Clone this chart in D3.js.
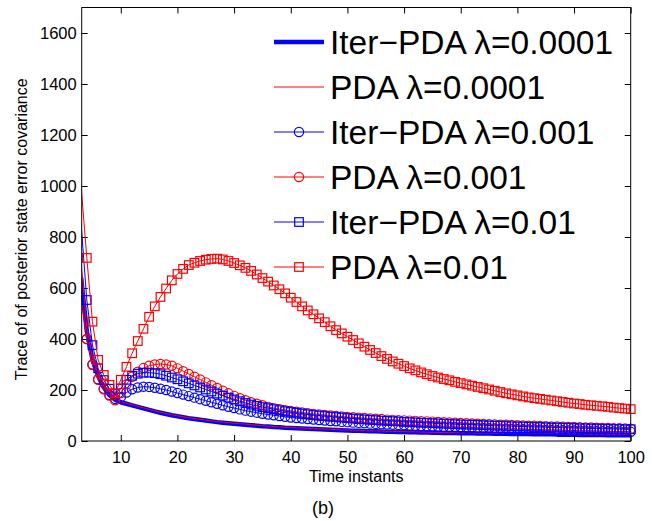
<!DOCTYPE html>
<html><head><meta charset="utf-8">
<script src="https://cdn.jsdelivr.net/npm/d3@7"></script>
<style>
html,body{margin:0;padding:0;background:#fff;}
svg{display:block;font-family:"Liberation Sans",Arial,Helvetica,sans-serif;}
</style></head>
<body>
<svg id="chart" width="652" height="521"></svg>
<script>
// ---- data ----
const timeInstants = d3.range(3, 101);
const xTicks = [10,20,30,40,50,60,70,80,90,100];
const yTicks = [0,200,400,600,800,1000,1200,1400,1600];
const seriesNames = ["Iter\u2212PDA \u03bb=0.0001","PDA \u03bb=0.0001","Iter\u2212PDA \u03bb=0.001","PDA \u03bb=0.001","Iter\u2212PDA \u03bb=0.01","PDA \u03bb=0.01"];
const iterPda00001 = [640,430,320,255,210,180,162,152,146,140,
 134,128,122,116,111,106,101,97,93,89,
 86,83,80,77,74,72,70,68,66,64,
 62,60,58,57,55,54,52,51,50,49,
 48,47,46,45,44,43,42,41,40,40,
 39,38,38,37,36,36,35,35,34,34,
 33,33,32,32,31,31,31,30,30,30,
 29,29,29,28,28,28,27,27,27,27,
 26,26,26,26,25,25,25,25,24,24,
 24,24,24,23,23,23,23,23];
const pda00001 = [700,445,326,258,212,182,164,154,148,142,
 136,130,124,118,113,108,103,99,95,91,
 88,85,82,79,76,74,72,70,68,66,
 64,62,60,58,57,55,54,53,52,51,
 50,49,48,47,46,45,44,43,42,42,
 41,40,40,39,38,38,37,37,36,36,
 35,35,34,34,33,33,33,32,32,32,
 31,31,31,30,30,30,29,29,29,29,
 28,28,28,28,27,27,27,27,26,26,
 26,26,26,25,25,25,25,25];
const iterPda0001 = [600,400,300,242,205,180,165,172,190,203,
 210,213,212,209,205,200,194,188,182,176,
 170,164,158,152,146,140,134,129,124,119,
 115,111,107,104,101,98,95,92,90,88,
 86,84,82,80,78,77,75,74,72,71,
 70,68,67,66,65,64,63,62,61,60,
 59,58,57,56,55,55,54,53,52,52,
 51,50,50,49,48,48,47,46,46,45,
 45,44,43,43,42,42,41,41,40,40,
 39,39,38,38,37,37,36,36];
const pda0001 = [560,400,298,240,203,178,160,188,222,252,
 272,286,295,300,302,300,295,285,274,263,
 252,241,230,219,208,197,187,177,168,160,
 152,146,140,134,129,125,121,118,115,112,
 109,106,104,102,100,98,96,94,93,91,
 90,88,87,86,84,83,82,81,80,79,
 78,77,76,75,74,73,72,71,70,69,
 68,67,66,65,64,64,63,62,61,60,
 60,59,58,57,57,56,55,55,54,53,
 53,52,51,51,50,50,49,48];
const iterPda001 = [850,553,376,285,239,205,185,205,240,256,
 264,268,268,266,262,256,249,242,234,226,
 218,210,202,194,186,178,170,163,156,149,
 143,138,133,129,125,121,117,114,111,108,
 105,102,100,98,96,94,92,90,88,86,
 85,83,82,80,79,78,77,75,74,73,
 72,71,70,69,68,67,66,65,64,64,
 63,62,61,60,60,59,58,57,57,56,
 55,55,54,53,53,52,52,51,50,50,
 49,49,48,48,47,47,46,46];
const pda001 = [1000,718,468,318,259,220,187,240,291,344,
 392,440,487,528,565,598,630,655,675,690,
 699,706,711,714,715,712,706,698,689,679,
 667,653,639,625,610,595,579,562,545,528,
 512,497,481,466,450,435,422,409,396,383,
 370,357,345,333,322,312,303,294,285,277,
 269,262,255,249,243,238,232,227,222,217,
 212,207,202,197,192,187,183,179,175,171,
 168,165,162,159,156,153,150,147,145,142,
 140,138,136,134,131,129,127,125];

const seriesValues = [iterPda00001, pda00001, iterPda0001, pda0001, iterPda001, pda001];
const seriesColors = ["#0000ff","#ff0000","#0000ff","#ff0000","#0000ff","#ff0000"];
const seriesWidths = [4.5,1,1,1,1,1];
const seriesMarkers = ["none","none","circle","circle","square","square"];

// ---- layout ----
const L = 81.7, R = 630.7, T = 7.5, B = 441;
const svg = d3.select("#chart");
const x = d3.scaleLinear().domain([3.1, 100]).range([L, R]);
const y = d3.scaleLinear().domain([0, 1700]).range([B, T]);

svg.append("defs").append("clipPath").attr("id","clip")
  .append("rect").attr("x",L).attr("y",T).attr("width",R-L).attr("height",B-T);

const tickFont = "16.5px";
const fmt = d3.format("d");
const gx = svg.append("g").attr("transform",`translate(0,${B})`)
  .call(d3.axisBottom(x).tickValues(xTicks).tickFormat(fmt).tickSizeInner(-6).tickSizeOuter(0).tickPadding(10));
const gxt = svg.append("g").attr("transform",`translate(0,${T})`)
  .call(d3.axisTop(x).tickValues(xTicks).tickSizeInner(-6).tickSizeOuter(0).tickFormat(""));
const gy = svg.append("g").attr("transform",`translate(${L},0)`)
  .call(d3.axisLeft(y).tickValues(yTicks).tickFormat(fmt).tickSizeInner(-6).tickSizeOuter(0).tickPadding(5));
const gyr = svg.append("g").attr("transform",`translate(${R},0)`)
  .call(d3.axisRight(y).tickValues(yTicks).tickSizeInner(-6).tickSizeOuter(0).tickFormat(""));
[gx,gxt,gy,gyr].forEach(g=>{
  g.select(".domain").remove();
  g.selectAll(".tick line").attr("stroke","#000").attr("stroke-width",1);
  g.selectAll("text").attr("fill","#000").style("font-size",tickFont)
    .style("font-family","'Liberation Sans',Arial,Helvetica,sans-serif");
});

// series
const plot = svg.append("g");
seriesValues.forEach((vals,i)=>{
  const pts = timeInstants.map((t,j)=>({t, v: vals[j]}));
  const line = d3.line().x(d=>x(d.t)).y(d=>y(d.v));
  plot.append("path").datum(pts).attr("clip-path","url(#clip)")
    .attr("d",line).attr("fill","none").attr("stroke",seriesColors[i])
    .attr("stroke-width",seriesWidths[i]).attr("stroke-linejoin","round");
  const vis = pts.filter(d=>d.t >= x.domain()[0]);
  if (seriesMarkers[i]==="circle"){
    plot.append("g").selectAll("circle").data(vis).join("circle")
      .attr("cx",d=>x(d.t)).attr("cy",d=>y(d.v)).attr("r",4.6)
      .attr("fill","none").attr("stroke",seriesColors[i]).attr("stroke-width",1.2);
  } else if (seriesMarkers[i]==="square"){
    plot.append("g").selectAll("rect").data(vis).join("rect")
      .attr("x",d=>x(d.t)-4.3).attr("y",d=>y(d.v)-4.3).attr("width",8.6).attr("height",8.6)
      .attr("fill","none").attr("stroke",seriesColors[i]).attr("stroke-width",1.2);
  }
});

// box
svg.append("rect").attr("x",L).attr("y",T).attr("width",R-L).attr("height",B-T)
  .attr("fill","none").attr("stroke","#000").attr("stroke-width",1);

// legend
const leg = svg.append("g");
seriesNames.forEach((name,i)=>{
  const cy = 42 + i*45;
  leg.append("line").attr("x1",274).attr("x2",324).attr("y1",cy).attr("y2",cy)
    .attr("stroke",seriesColors[i]).attr("stroke-width",seriesWidths[i]);
  if (seriesMarkers[i]==="circle"){
    leg.append("circle").attr("cx",299).attr("cy",cy).attr("r",4.6)
      .attr("fill","none").attr("stroke",seriesColors[i]).attr("stroke-width",1.2);
  } else if (seriesMarkers[i]==="square"){
    leg.append("rect").attr("x",294.7).attr("y",cy-4.3).attr("width",8.6).attr("height",8.6)
      .attr("fill","none").attr("stroke",seriesColors[i]).attr("stroke-width",1.2);
  }
  leg.append("text").attr("x",330).attr("y",cy+11.8).text(name)
    .style("font-size","33.5px").attr("fill","#000");
});

// labels
svg.append("text").attr("x",(L+R)/2).attr("y",481.5).attr("text-anchor","middle")
  .style("font-size","16px").text("Time instants");
svg.append("text").attr("transform",`translate(27,${(T+B)/2+5}) rotate(-90)`)
  .attr("text-anchor","middle").style("font-size","16px")
  .text("Trace of of posterior state error covariance");
svg.append("text").attr("x",323).attr("y",514).attr("text-anchor","middle")
  .style("font-size","18px").text("(b)");
</script>
</body></html>
